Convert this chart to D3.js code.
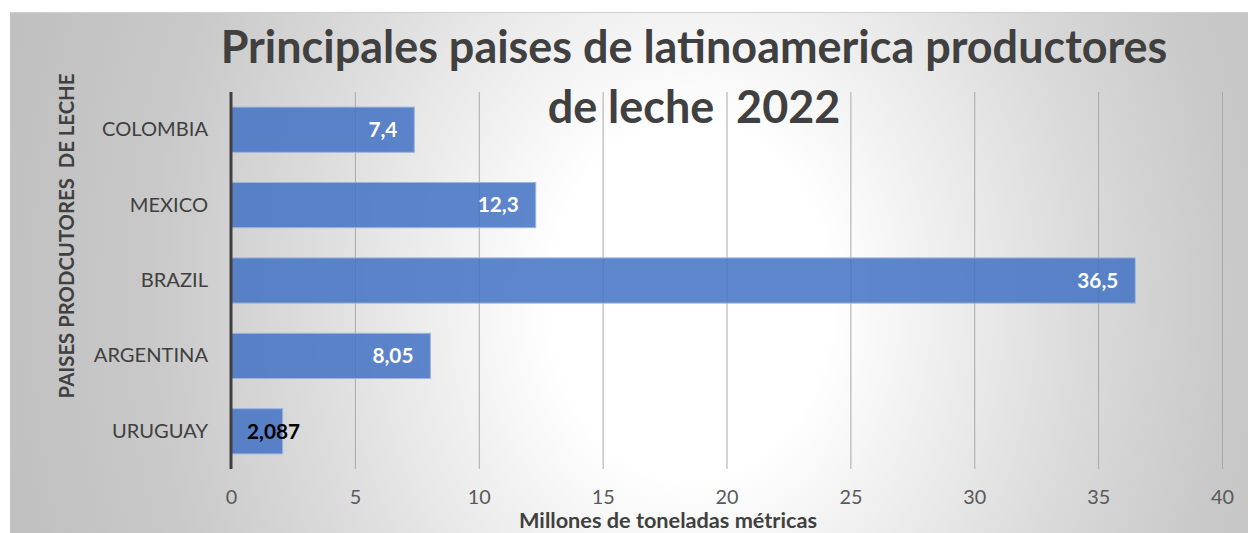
<!DOCTYPE html>
<html>
<head>
<meta charset="utf-8">
<script src="https://cdn.jsdelivr.net/npm/d3@7"></script>
<style>
  html, body { margin: 0; padding: 0; background: #ffffff; }
  svg { display: block; font-family: Lato, "Open Sans", sans-serif; }
</style>
</head>
<body>
<svg id="chart" width="1248" height="533"></svg>
<script>
// Milk production, Latin America 2022 (millions of metric tons)
const countries = ["COLOMBIA", "MEXICO", "BRAZIL", "ARGENTINA", "URUGUAY"];
const production = [7.4, 12.3, 36.5, 8.05, 2.087];
const valueLabels = ["7,4", "12,3", "36,5", "8,05", "2,087"];
const xTicks = [0, 5, 10, 15, 20, 25, 30, 35, 40];
const titleLines = ["Principales paises de latinoamerica productores", "de leche  2022"];
const xTitle = "Millones de toneladas métricas";
const yTitle = "PAISES PRODCUTORES  DE LECHE";

const data = countries.map((c, i) => ({ country: c, value: production[i], label: valueLabels[i] }));

const svg = d3.select("#chart");

// background panel with soft radial shading (elliptical, taller than wide)
const defs = svg.append("defs");
const grad = defs.append("radialGradient")
  .attr("id", "bg")
  .attr("gradientUnits", "userSpaceOnUse")
  .attr("cx", 0).attr("cy", 0).attr("r", 700)
  .attr("gradientTransform", "translate(690,300) scale(1,1.25)");
[[0, "#ffffff"], [0.2, "#ffffff"], [0.57, "#dadada"], [0.77, "#c9c9c9"], [1, "#c0c0c0"]]
  .forEach(([o, c]) => grad.append("stop").attr("offset", o).attr("stop-color", c));

svg.append("rect")
  .attr("x", 10).attr("y", 12).attr("width", 1238).attr("height", 521)
  .attr("fill", "url(#bg)");
svg.append("line").attr("x1", 10).attr("x2", 1248).attr("y1", 12.5).attr("y2", 12.5)
  .attr("stroke", "#cfcfcf").attr("stroke-width", 1);
svg.append("line").attr("x1", 10.5).attr("x2", 10.5).attr("y1", 12).attr("y2", 533)
  .attr("stroke", "#c4c4c4").attr("stroke-width", 1);

// scales
const x = d3.scaleLinear().domain([0, 40]).range([231, 1222]);
const y = d3.scaleBand().domain(countries).range([92, 469]).paddingInner(0.4).paddingOuter(0.2);

// size a text element so it spans the given width
function fitSize(sel, width, base) {
  sel.attr("font-size", base);
  const w = sel.node().getComputedTextLength();
  sel.attr("font-size", base * width / w);
  return base * width / w;
}

// vertical gridlines
svg.append("g").selectAll("line")
  .data(xTicks.filter(t => t > 0))
  .join("line")
  .attr("x1", d => x(d) + 0.5).attr("x2", d => x(d) + 0.5)
  .attr("y1", 92).attr("y2", 469)
  .attr("stroke", "#a9a9a9").attr("stroke-width", 1);

// bars
svg.append("g").selectAll("rect")
  .data(data)
  .join("rect")
  .attr("x", x(0))
  .attr("y", d => y(d.country))
  .attr("width", d => x(d.value) - x(0))
  .attr("height", y.bandwidth())
  .attr("fill", "#4472c4")
  .attr("fill-opacity", 0.86)
  .attr("stroke", "#9fb6e0")
  .attr("stroke-width", 1);

// category axis line
svg.append("line")
  .attr("x1", x(0)).attr("x2", x(0))
  .attr("y1", 92).attr("y2", 469)
  .attr("stroke", "#404040").attr("stroke-width", 3);

// x tick labels via d3 axis
const xAxis = svg.append("g")
  .attr("transform", "translate(0,490)")
  .call(d3.axisBottom(x).tickValues(xTicks).tickSize(0).tickPadding(0).tickFormat(d3.format("d")));
xAxis.select(".domain").remove();
xAxis.selectAll("text")
  .attr("fill", "#595959")
  .attr("font-family", "Lato, 'Open Sans', sans-serif")
  .attr("dy", "0.71em");
{
  const probe = xAxis.selectAll("text").filter(d => d === 40);
  const fs = fitSize(probe, 23, 20);
  xAxis.selectAll("text").attr("font-size", fs);
}

// category labels via d3 axis
const yAxis = svg.append("g")
  .attr("transform", "translate(208,0)")
  .call(d3.axisLeft(y).tickSize(0).tickPadding(0));
yAxis.select(".domain").remove();
yAxis.selectAll("text")
  .attr("fill", "#404040")
  .attr("font-family", "Lato, 'Open Sans', sans-serif");
{
  const probe = yAxis.selectAll("text").filter(d => d === "COLOMBIA");
  const fs = fitSize(probe, 106, 20);
  yAxis.selectAll("text").attr("font-size", fs);
}

// value labels
const labels = svg.append("g").selectAll("text")
  .data(data)
  .join("text")
  .attr("y", d => y(d.country) + y.bandwidth() / 2)
  .attr("dy", "0.35em")
  .attr("font-weight", 700)
  .text(d => d.label);
{
  const probe = labels.filter(d => d.country === "BRAZIL");
  const fs = fitSize(probe, 41, 20);
  labels.attr("font-size", fs);
}
labels
  .attr("x", d => d.value < 4 ? x(0) + 16 : x(d.value) - 17)
  .attr("text-anchor", d => d.value < 4 ? "start" : "end")
  .attr("fill", d => d.value < 4 ? "#000000" : "#ffffff");

// title
const title = svg.append("g").selectAll("text")
  .data(titleLines)
  .join("text")
  .attr("x", 694)
  .attr("y", (d, i) => 63 + i * 60)
  .attr("text-anchor", "middle")
  .attr("font-weight", 700)
  .attr("fill", "#404040")
  .style("white-space", "pre")
  .text(d => d);
{
  const fs = fitSize(title.filter((d, i) => i === 0), 947, 40);
  title.attr("font-size", fs);
}

// axis titles
const xt = svg.append("text")
  .attr("x", 668).attr("y", 528)
  .attr("text-anchor", "middle")
  .attr("font-weight", 700)
  .attr("fill", "#404040")
  .text(xTitle);
fitSize(xt, 298, 18);

const yt = svg.append("text")
  .attr("transform", "translate(74,236) rotate(-90)")
  .attr("text-anchor", "middle")
  .attr("font-weight", 700)
  .attr("fill", "#404040")
  .style("white-space", "pre")
  .text(yTitle);
fitSize(yt, 325, 20);
</script>
</body>
</html>
